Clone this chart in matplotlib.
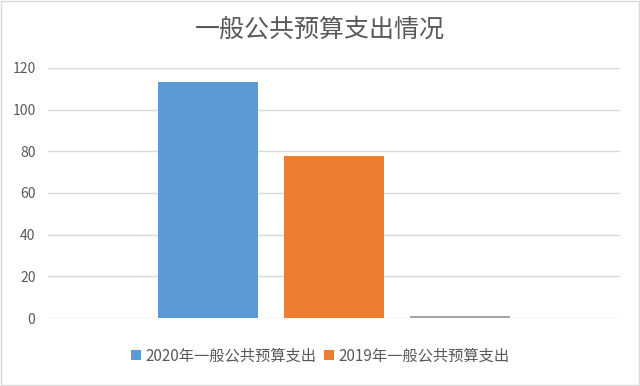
import matplotlib
matplotlib.use("Agg")
import matplotlib.pyplot as plt
from matplotlib.patches import Rectangle

plt.rcParams["font.family"] = ["Noto Sans CJK SC", "DejaVu Sans"]

title = "一般公共预算支出情况"
series_names = ["2020年一般公共预算支出", "2019年一般公共预算支出", ""]
values = [113.3, 77.8, 0.9]
colors = ["#5b9bd5", "#ed7d31", "#a5a5a5"]
yticks = [0, 20, 40, 60, 80, 100, 120]

fig = plt.figure(figsize=(6.4, 3.86), dpi=100)
ax = fig.add_axes([0.075, 0.176, 0.894, 0.648])

width = 0.794
for i, (name, v, c) in enumerate(zip(series_names, values, colors)):
    ax.bar(i - 1, v, width=width, color=c, label=name if name else "_nolegend_", zorder=3)

ax.set_xlim(-2.266, 2.274)
ax.set_ylim(0, 120)
ax.set_yticks(yticks)
ax.set_xticks([])
ax.grid(axis="y", color="#d9d9d9", lw=1, zorder=0)
for s in ax.spines.values():
    s.set_visible(False)
ax.tick_params(axis="y", length=0, pad=9, labelsize=10, labelcolor="#595959")

fig.text(0.5, 0.922, title, ha="center", va="center", fontsize=18, color="#595959")

handles, labels = ax.get_legend_handles_labels()
fig.legend(handles, labels, loc="center", bbox_to_anchor=(0.5, 0.078), ncol=2, frameon=False,
           fontsize=11, handlelength=0.65, handleheight=0.65, handletextpad=0.3,
           columnspacing=0.5, labelcolor="#595959")

fig.patches.append(Rectangle((0.002, 0.003), 0.996, 0.994, transform=fig.transFigure,
                             fill=False, edgecolor="#d9d9d9", lw=1))

fig.savefig("out.png", dpi=100)
